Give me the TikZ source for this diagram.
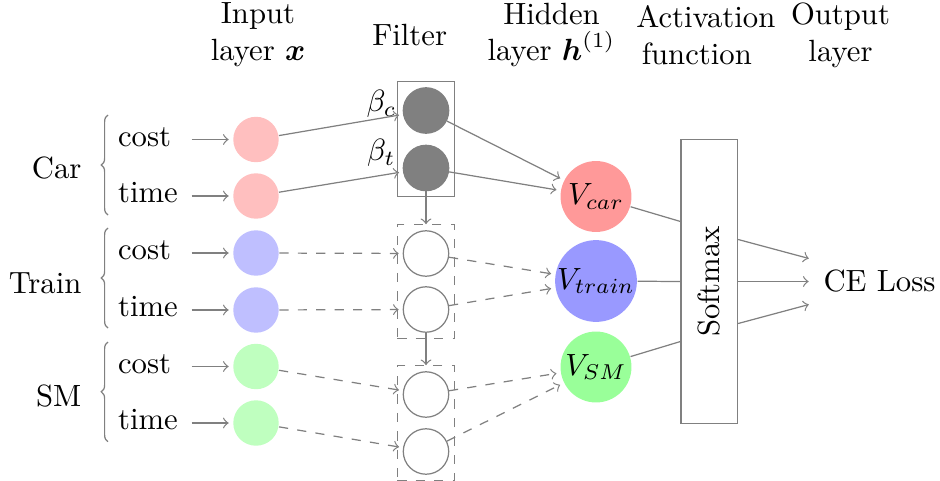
\documentclass[tikz,border=0pt]{standalone}
\usepackage{amsmath}
\usepackage{graphicx}
\usetikzlibrary{fit,calc,decorations.pathreplacing}
\begin{document}
\begin{tikzpicture}[x=0.3257pt,y=-0.3257pt,
  conn/.style={draw=gray, line width=0.4pt},
  arr/.style={conn, ->, shorten >=1.3pt},
  darr/.style={arr, dashed},
  varr/.style={conn, ->},
  inp/.style={circle, minimum size=14.8pt, inner sep=0pt},
  filt/.style={circle, minimum size=14.8pt, inner sep=0pt, draw=gray},
  hid/.style={circle, minimum size=23.1pt, inner sep=0pt},
  hdr/.style={align=center, inner sep=0pt},
  feat/.style={anchor=mid west, inner sep=0pt},
  grp/.style={anchor=base east, inner sep=0pt},
  brc/.style={draw=gray, decorate, decoration={brace, amplitude=2.2pt}},
  fbox/.style={draw=gray, inner sep=1.75pt},
  dfbox/.style={fbox, dashed}
]
\useasboundingbox (0,0) rectangle (940,480);

% headers
\node[hdr] (h1) at (258,35) {Input\\layer $\boldsymbol{x}$};
\node[hdr] (h2) at (409.7,35) {Filter};
\node[hdr] (h3) at (551.5,35) {Hidden\\layer $\boldsymbol{h}^{(1)}$};
\node[hdr] (h4) at (705.8,35) {Activation\\function\hspace*{5.86pt}};
\node[hdr] (h5) at (840.5,35) {Output\\layer};

% group labels
\node[grp] (gcar) at (82,178.3) {Car};
\node[grp] (gtrain) at (82,293.3) {Train};
\node[grp] (gsm) at (82,406.7) {SM};

% braces
\draw[brc] (108,215) -- (108,115);
\draw[brc] (108,328) -- (108,228);
\draw[brc] (108,441.7) -- (108,342);

% feature labels
\node[feat] (c1) at (117.5,139.5) {cost};
\node[feat] (t1) at (117.5,196) {time};
\node[feat] (c2) at (117.5,253) {cost};
\node[feat] (t2) at (117.5,310) {time};
\node[feat] (c3) at (117.5,366.5) {cost};
\node[feat] (t3) at (117.5,423) {time};

% input neurons
\node[inp, fill=red!25] (i1) at (256,139.5) {};
\node[inp, fill=red!25] (i2) at (256,196) {};
\node[inp, fill=blue!25] (i3) at (256,253) {};
\node[inp, fill=blue!25] (i4) at (256,310) {};
\node[inp, fill=green!25] (i5) at (256,366.5) {};
\node[inp, fill=green!25] (i6) at (256,423) {};

% arrow start coordinates
\coordinate (a1) at (191.7,139.5);
\coordinate (a2) at (191.7,196);
\coordinate (a3) at (191.7,253);
\coordinate (a4) at (191.7,310);
\coordinate (a5) at (191.7,366.5);
\coordinate (a6) at (191.7,423);
\foreach \k in {1,...,6} \draw[arr] (a\k) -- (i\k);

% filter neurons
\node[filt, fill=gray] (f1) at (426,110.5) {};
\node[filt, fill=gray] (f2) at (426,168) {};
\node[filt] (f3) at (426,253.5) {};
\node[filt] (f4) at (426,309.5) {};
\node[filt] (f5) at (426,394.5) {};
\node[filt] (f6) at (426,451.5) {};

\node[fbox, fit=(f1)(f2)] (fb1) {};
\node[dfbox, fit=(f3)(f4)] (fb2) {};
\node[dfbox, fit=(f5)(f6)] (fb3) {};

\node[anchor=base east, inner sep=0pt] (bc) at (397,112) {$\beta_c$};
\node[anchor=base east, inner sep=0pt] (bt) at (396,161) {$\beta_t$};

\draw[varr] (f2.south) -- (fb2.north);
\draw[varr] (f4.south) -- (fb3.north);

% input -> filter
\draw[arr] (i1) -- (f1);
\draw[arr] (i2) -- (f2);
\draw[darr] (i3) -- (f3);
\draw[darr] (i4) -- (f4);
\draw[darr] (i5) -- (f5);
\draw[darr] (i6) -- (f6);

% hidden neurons
\node[hid, fill=red!40] (vcar) at (596,196.5) {$V_{car}$};
\node[hid, fill=blue!40] (vtrain) at (596,281) {$V_{train}$};
\node[hid, fill=green!40] (vsm) at (596,367) {$V_{SM}$};

\draw[arr] (f1) -- (vcar);
\draw[arr] (f2) -- (vcar);
\draw[darr] (f3) -- (vtrain);
\draw[darr] (f4) -- (vtrain);
\draw[darr] (f5) -- (vsm);
\draw[darr] (f6) -- (vsm);

% softmax
\node[draw=gray, minimum width=18.4pt, minimum height=92.5pt, inner sep=0pt] (sm) at (709.3,281.5) {\rotatebox{90}{Softmax}};
\coordinate (smi1) at ($(sm.west)+(0,-60)$);
\coordinate (smi3) at ($(sm.west)+(0,60)$);
\coordinate (smo1) at ($(sm.east)+(0,-42)$);
\coordinate (smo3) at ($(sm.east)+(0,42)$);

\draw[conn] (vcar) -- (smi1);
\draw[conn] (vtrain) -- (sm.west);
\draw[conn] (vsm) -- (smi3);

% output
\node (ce) at (879.5,281.5) {CE Loss};
\draw[arr] (smo1) -- (ce.north west);
\draw[arr] (sm.east) -- (ce.west);
\draw[arr] (smo3) -- (ce.south west);
\end{tikzpicture}
\end{document}
